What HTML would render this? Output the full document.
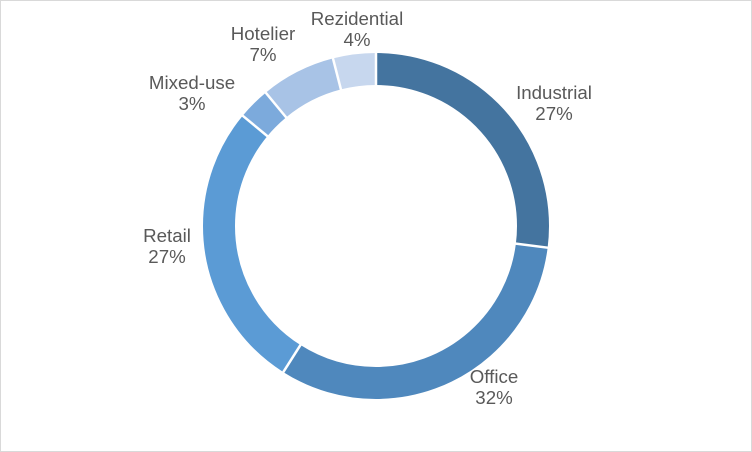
<!DOCTYPE html>
<html><head><meta charset="utf-8"><style>
html,body{margin:0;padding:0;background:#fff}
.wrap{width:750px;height:450px;border:1px solid #d9d9d9;position:relative}
svg text{font-family:"Liberation Sans",sans-serif;font-size:18.7px;fill:#595959;text-anchor:middle}
</style></head><body><div class="wrap">
<svg width="752" height="452" viewBox="0 0 752 452" style="position:absolute;left:-1px;top:-1px">
<g transform="rotate(-90 376 226)" fill="none" stroke-width="32">
<circle cx="376" cy="226" r="157" pathLength="100" stroke="#44749f" stroke-dasharray="27 73" stroke-dashoffset="0"/>
<circle cx="376" cy="226" r="157" pathLength="100" stroke="#4f88bd" stroke-dasharray="32 68" stroke-dashoffset="-27"/>
<circle cx="376" cy="226" r="157" pathLength="100" stroke="#5b9bd5" stroke-dasharray="27 73" stroke-dashoffset="-59"/>
<circle cx="376" cy="226" r="157" pathLength="100" stroke="#7caadc" stroke-dasharray="3 97" stroke-dashoffset="-86"/>
<circle cx="376" cy="226" r="157" pathLength="100" stroke="#a8c3e6" stroke-dasharray="7 93" stroke-dashoffset="-89"/>
<circle cx="376" cy="226" r="157" pathLength="100" stroke="#c7d7ee" stroke-dasharray="4 96" stroke-dashoffset="-96"/>
</g>
<g stroke="#fff" stroke-width="2.5">
<line x1="376" y1="86" x2="376" y2="48" transform="rotate(0 376 226)"/>
<line x1="376" y1="86" x2="376" y2="48" transform="rotate(97.2 376 226)"/>
<line x1="376" y1="86" x2="376" y2="48" transform="rotate(212.4 376 226)"/>
<line x1="376" y1="86" x2="376" y2="48" transform="rotate(309.6 376 226)"/>
<line x1="376" y1="86" x2="376" y2="48" transform="rotate(320.4 376 226)"/>
<line x1="376" y1="86" x2="376" y2="48" transform="rotate(345.6 376 226)"/>
</g>
<text x="554" y="99">Industrial</text><text x="554" y="120">27%</text>
<text x="494" y="383">Office</text><text x="494" y="404">32%</text>
<text x="167" y="242">Retail</text><text x="167" y="263">27%</text>
<text x="192" y="89">Mixed-use</text><text x="192" y="110">3%</text>
<text x="263" y="40">Hotelier</text><text x="263" y="61">7%</text>
<text x="357" y="25">Rezidential</text><text x="357" y="46">4%</text>
</svg></div></body></html>
